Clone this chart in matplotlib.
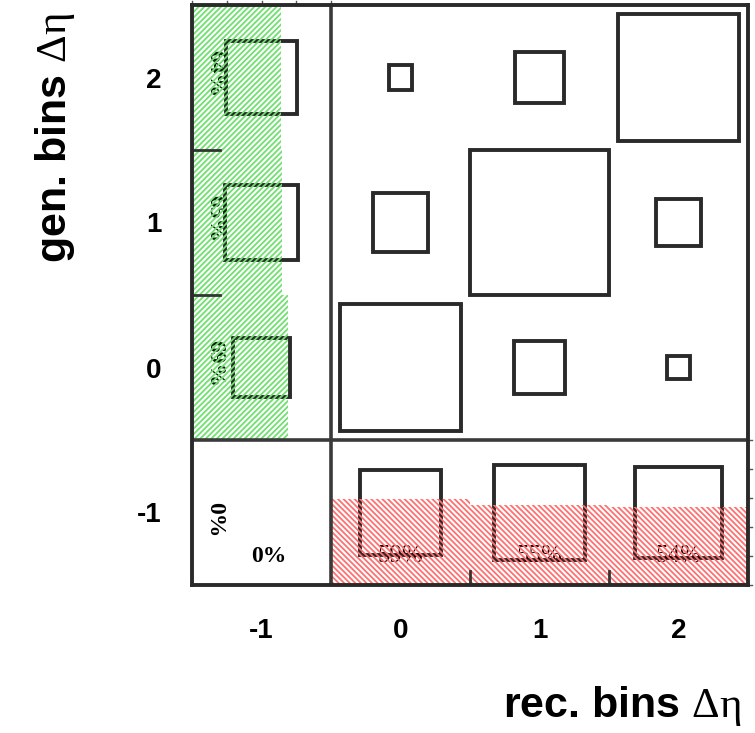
import matplotlib
matplotlib.use("Agg")
import matplotlib.pyplot as plt
from matplotlib.patches import Rectangle
import numpy as np

# ---- data ----
rec_bins = [-1, 0, 1, 2]
gen_bins = [-1, 0, 1, 2]
tick_labels = ["-1", "0", "1", "2"]
# box content (relative), rows = gen bins (-1,0,1,2), cols = rec bins (-1,0,1,2)
content_gen_m1 = [0.0, 58.0, 66.0, 63.0]
content_gen_0 = [41.0, 87.0, 37.0, 16.0]
content_gen_1 = [52.0, 40.0, 100.0, 33.0]
content_gen_2 = [51.0, 17.0, 35.0, 87.0]
# fraction of gen events reconstructed (green, rows gen 0,1,2)
gen_frac_bins = [0, 1, 2]
gen_frac = [0.69, 0.65, 0.64]
gen_frac_labels = ["69%", "65%", "64%"]
# purity (red, columns rec 0,1,2)
rec_frac_bins = [0, 1, 2]
rec_frac = [0.59, 0.55, 0.54]
rec_frac_labels = ["59%", "55%", "54%"]
under_label = "0%"

content = np.array([content_gen_m1, content_gen_0, content_gen_1, content_gen_2])
cmax = content.max()

plt.rcParams['mathtext.fontset'] = 'custom'
plt.rcParams['mathtext.rm'] = 'Liberation Serif'
plt.rcParams['mathtext.it'] = 'Liberation Serif:italic'
plt.rcParams['mathtext.bf'] = 'Liberation Serif:bold'

fig = plt.figure(figsize=(7.55, 7.33), dpi=100)
ax = fig.add_axes([192/755, 1-585/733, (748-192)/755, (585-5)/733])
ax.set_xlim(-1.5, 2.5)
ax.set_ylim(-1.5, 2.5)

edge = '#2a2a2a'
# boxes
for i, g in enumerate(gen_bins):
    for j, r in enumerate(rec_bins):
        s = content[i, j] / cmax
        if s <= 0:
            continue
        ax.add_patch(Rectangle((r - s/2, g - s/2), s, s, fill=False,
                               edgecolor=edge, linewidth=2.8, zorder=3))

# labels in margins
serif = ['Liberation Serif', 'DejaVu Serif']
for g, lab in zip(gen_frac_bins, gen_frac_labels):
    ax.text(-1.335, g + 0.03, lab, rotation=-90, ha='center', va='center',
            fontsize=17, fontfamily=serif, fontweight='bold', color='#0a200a', zorder=4)
ax.text(-1.335, -1.05, under_label, rotation=-90, ha='center', va='center',
        fontsize=17, fontfamily=serif, fontweight='bold', color='black', zorder=4)
ax.text(-0.95, -1.3, under_label, ha='center', va='center',
        fontsize=17, fontfamily=serif, fontweight='bold', color='black', zorder=4)
for r, lab in zip(rec_frac_bins, rec_frac_labels):
    ax.text(r, -1.3, lab, ha='center', va='center',
            fontsize=18, fontfamily=serif, color='#220000', zorder=4)

plt.rcParams['hatch.linewidth'] = 1.3
# green hatched efficiency bars (left column)
for g, f in zip(gen_frac_bins, gen_frac):
    ax.add_patch(Rectangle((-1.5, g - 0.5), f, 1.0, facecolor='none',
                           edgecolor='#70e070', linewidth=0, hatch='//////', zorder=5))
# red hatched purity bars (bottom row)
for r, f in zip(rec_frac_bins, rec_frac):
    ax.add_patch(Rectangle((r - 0.5, -1.5), 1.0, f, facecolor='none',
                           edgecolor='#ff7070', linewidth=0, hatch='\\\\\\\\\\\\', zorder=5))

# separating lines
ax.axvline(-0.5, color='#3a3a3a', linewidth=2.6, zorder=6)
ax.axhline(-0.5, color='#3a3a3a', linewidth=2.6, zorder=6)

# small internal ticks of the projection histograms
for yb in [0.5, 1.5]:
    ax.plot([-1.5, -1.3], [yb, yb], color='#333333', linewidth=2.0, zorder=6)
for xb in [0.5, 1.5]:
    ax.plot([xb, xb], [-1.5, -1.4], color='#333333', linewidth=2.0, zorder=6)
for xt in np.arange(-1.5, -0.49, 0.25):
    ax.plot([xt, xt], [2.5, 2.53], color='#555555', linewidth=1.0, clip_on=False, zorder=6)
for yt in np.arange(-1.5, -0.49, 0.2):
    ax.plot([2.5, 2.53], [yt, yt], color='#555555', linewidth=1.0, clip_on=False, zorder=6)

for sp in ax.spines.values():
    sp.set_linewidth(2.8)
    sp.set_color('#2a2a2a')
    sp.set_zorder(7)

ax.set_xticks(rec_bins)
ax.set_xticklabels(tick_labels)
ax.set_yticks(gen_bins)
ax.set_yticklabels(tick_labels)
sans = ['Liberation Sans', 'DejaVu Sans']
for lab in ax.get_xticklabels() + ax.get_yticklabels():
    lab.set_fontfamily(sans)
    lab.set_fontweight('bold')
    lab.set_fontsize(20)
ax.tick_params(axis='both', length=0)
ax.tick_params(axis='x', pad=24)
ax.tick_params(axis='y', pad=22)

fig.text(55/755, 1-12/733, r"gen. bins $\mathrm{\Delta\eta}$", rotation=90, ha='center', va='top',
         fontsize=31, fontweight='bold', fontfamily=sans)
fig.text(742/755, 1-706/733, r"rec. bins $\mathrm{\Delta\eta}$", ha='right', va='center',
         fontsize=31, fontweight='bold', fontfamily=sans)

fig.savefig("out.png", dpi=100)
